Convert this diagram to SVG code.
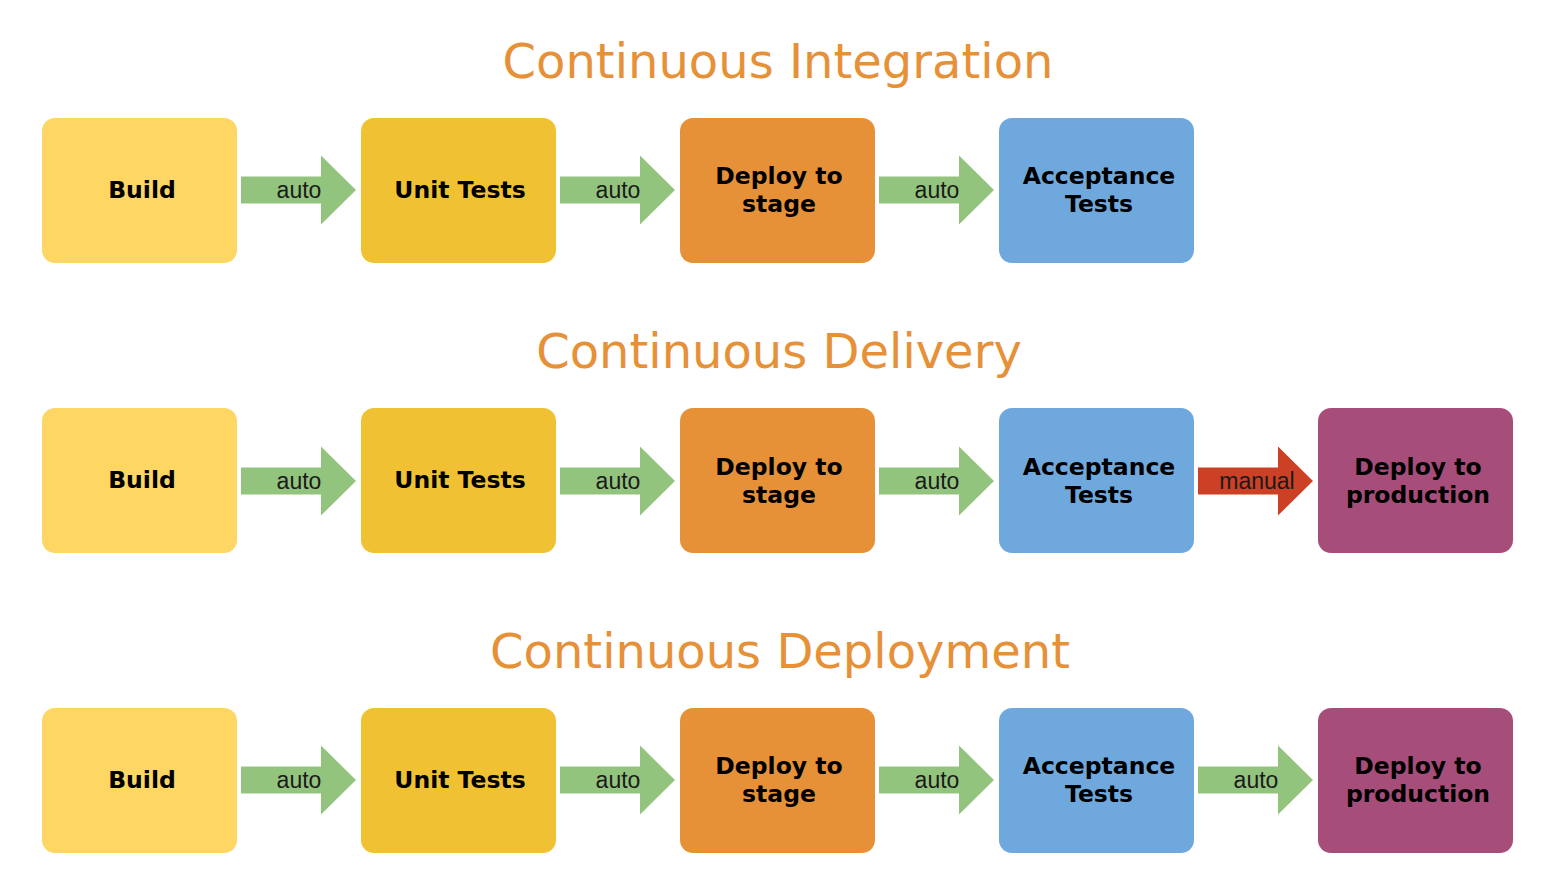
<svg xmlns="http://www.w3.org/2000/svg" width="1568" height="895" viewBox="0 0 1568 895">
<defs>
<style>
.title{font-family:"DejaVu Sans",Verdana,sans-serif;font-size:48px;fill:#E69138;text-anchor:middle}
.box text{font-family:"DejaVu Sans",Verdana,sans-serif;font-size:23.5px;font-weight:bold;fill:#000;text-anchor:middle}
.lbl{font-family:"Liberation Sans",Arial,sans-serif;font-size:23px;fill:#1a1a1a;text-anchor:middle}
.auto{fill:#93C47D}
.manual{fill:#CC4125}
</style>
<path id="arr" d="M0,-13.5 H80 V-34.5 L115,0 L80,34.5 V13.5 H0 Z"/>
</defs>
<rect width="1568" height="895" fill="#fff"/>
<text class="title" x="778" y="78">Continuous Integration</text>
<text class="title" x="779" y="368">Continuous Delivery</text>
<text class="title" x="780" y="668">Continuous Deployment</text>

<g id="row1">
<g id="ci-build" class="box"><rect x="42" y="118" width="195" height="145" rx="13" fill="#FDD663"/><text x="142" y="198">Build</text></g>
<g id="ci-unit" class="box"><rect x="361" y="118" width="195" height="145" rx="13" fill="#F0C233"/><text x="460" y="198">Unit Tests</text></g>
<g id="ci-stage" class="box"><rect x="680" y="118" width="195" height="145" rx="13" fill="#E69138"/><text x="779" y="184">Deploy to</text><text x="779" y="212">stage</text></g>
<g id="ci-accept" class="box"><rect x="999" y="118" width="195" height="145" rx="13" fill="#6FA8DC"/><text x="1099" y="184">Acceptance</text><text x="1099" y="212">Tests</text></g>
</g>
<g id="row2">
<g id="cd-build" class="box"><rect x="42" y="408" width="195" height="145" rx="13" fill="#FDD663"/><text x="142" y="488">Build</text></g>
<g id="cd-unit" class="box"><rect x="361" y="408" width="195" height="145" rx="13" fill="#F0C233"/><text x="460" y="488">Unit Tests</text></g>
<g id="cd-stage" class="box"><rect x="680" y="408" width="195" height="145" rx="13" fill="#E69138"/><text x="779" y="475">Deploy to</text><text x="779" y="503">stage</text></g>
<g id="cd-accept" class="box"><rect x="999" y="408" width="195" height="145" rx="13" fill="#6FA8DC"/><text x="1099" y="475">Acceptance</text><text x="1099" y="503">Tests</text></g>
<g id="cd-prod" class="box"><rect x="1318" y="408" width="195" height="145" rx="13" fill="#A64D79"/><text x="1418" y="475">Deploy to</text><text x="1418" y="503">production</text></g>
</g>
<g id="row3">
<g id="cdp-build" class="box"><rect x="42" y="708" width="195" height="145" rx="13" fill="#FDD663"/><text x="142" y="788">Build</text></g>
<g id="cdp-unit" class="box"><rect x="361" y="708" width="195" height="145" rx="13" fill="#F0C233"/><text x="460" y="788">Unit Tests</text></g>
<g id="cdp-stage" class="box"><rect x="680" y="708" width="195" height="145" rx="13" fill="#E69138"/><text x="779" y="774">Deploy to</text><text x="779" y="802">stage</text></g>
<g id="cdp-accept" class="box"><rect x="999" y="708" width="195" height="145" rx="13" fill="#6FA8DC"/><text x="1099" y="774">Acceptance</text><text x="1099" y="802">Tests</text></g>
<g id="cdp-prod" class="box"><rect x="1318" y="708" width="195" height="145" rx="13" fill="#A64D79"/><text x="1418" y="774">Deploy to</text><text x="1418" y="802">production</text></g>
</g>

<g id="connectors">
<use href="#arr" class="auto" x="241" y="190"/><text class="lbl" x="299" y="198">auto</text>
<use href="#arr" class="auto" x="560" y="190"/><text class="lbl" x="618" y="198">auto</text>
<use href="#arr" class="auto" x="879" y="190"/><text class="lbl" x="937" y="198">auto</text>

<use href="#arr" class="auto" x="241" y="481"/><text class="lbl" x="299" y="489">auto</text>
<use href="#arr" class="auto" x="560" y="481"/><text class="lbl" x="618" y="489">auto</text>
<use href="#arr" class="auto" x="879" y="481"/><text class="lbl" x="937" y="489">auto</text>
<use href="#arr" class="manual" x="1198" y="481"/><text class="lbl" x="1257" y="489">manual</text>

<use href="#arr" class="auto" x="241" y="780"/><text class="lbl" x="299" y="788">auto</text>
<use href="#arr" class="auto" x="560" y="780"/><text class="lbl" x="618" y="788">auto</text>
<use href="#arr" class="auto" x="879" y="780"/><text class="lbl" x="937" y="788">auto</text>
<use href="#arr" class="auto" x="1198" y="780"/><text class="lbl" x="1256" y="788">auto</text>
</g>
</svg>
